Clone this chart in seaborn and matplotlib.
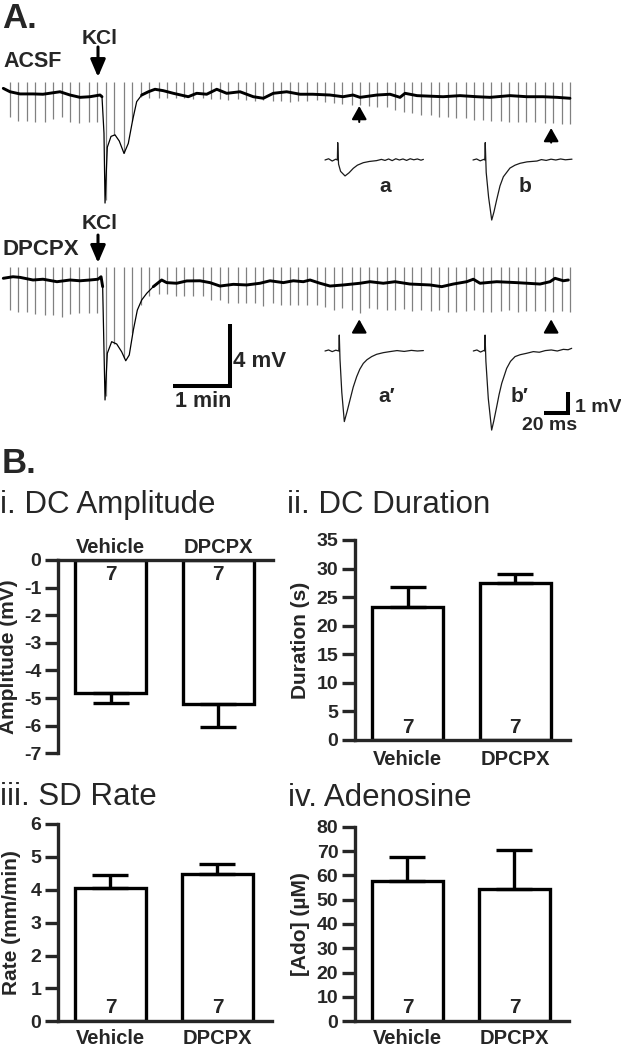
import numpy as np
import matplotlib
matplotlib.use("Agg")
import matplotlib.pyplot as plt
import seaborn as sns

# ---- Panel A: DC recordings (time in s, potential in mV) ----
top_t = [0.3, 7.4, 17.9, 31.6, 42.1, 60.0, 70.5, 81.1, 91.6, 102.1, 104.2, 106.3, 107.4, 109.8,
         113.7, 117.9, 122.4, 127.4, 131.9, 136.5, 140.7, 146.0, 153.0, 160.0, 168.7, 179.3,
         195.0, 203.9, 214.4, 225.0, 235.5, 249.5, 263.5, 274.0, 284.5, 298.6, 312.6, 326.0,
         344.2, 357.9, 368.4, 375.8, 393.7, 407.4, 417.9, 423.2, 435.8, 463.2, 481.1, 498.9,
         512.6, 533.7, 551.6, 568.4, 583.2, 596.8]
top_v = [0.30, 0.08, -0.06, -0.06, -0.08, 0.08, -0.13, -0.28, -0.24, -0.13, -0.24, -2.6, -7.1,
         -3.5, -2.8, -2.7, -3.1, -3.9, -3.25, -1.74, -0.56, -0.13, 0.08, 0.24, 0.15, -0.02,
         -0.24, -0.02, -0.08, 0.24, -0.02, 0.08, -0.24, -0.34, -0.02, 0.08, -0.08, -0.08,
         -0.13, -0.24, -0.13, -0.28, -0.13, -0.08, -0.28, -0.02, -0.17, -0.24, -0.17, -0.24,
         -0.28, -0.17, -0.24, -0.24, -0.28, -0.34]

bot_t = [0.3, 10.5, 17.9, 31.6, 42.1, 56.8, 70.5, 81.1, 91.6, 100.0, 103.2, 104.9, 107.4, 109.8,
         114.4, 119.7, 124.9, 129.2, 132.9, 137.2, 141.4, 146.0, 151.3, 158.2, 167.0, 172.3,
         182.8, 193.4, 207.4, 217.9, 228.4, 242.4, 256.5, 270.5, 281.1, 295.1, 305.6, 316.1,
         323.2, 333.7, 344.2, 358.2, 375.8, 386.3, 400.3, 412.6, 428.4, 449.5, 461.8, 474.0,
         488.1, 495.1, 502.1, 519.7, 540.7, 565.3, 575.8, 581.1, 589.8, 595.1]
bot_v = [0.11, 0.21, 0.17, 0.0, 0.05, -0.11, 0.0, -0.05, 0.0, 0.05, 0.21, -0.43, -7.74, -4.73,
         -3.98, -4.13, -4.63, -5.21, -4.84, -3.23, -1.94, -1.29, -0.86, -0.43, 0.0, -0.17,
         -0.21, -0.06, -0.05, -0.17, -0.39, -0.28, -0.32, -0.21, -0.05, -0.17, -0.05, -0.11,
         0.0, -0.21, -0.39, -0.32, -0.21, -0.11, -0.21, -0.11, -0.26, -0.32, -0.43, -0.26,
         -0.11, 0.05, -0.21, -0.11, -0.17, -0.26, -0.11, 0.11, -0.05, 0.0]

# stimulus times (s) and the negative extent of each evoked response (mV)
stim_t = [7, 16, 25, 34, 44, 53, 62, 71, 80, 90, 99, 108, 117, 127, 136, 145, 154, 164, 173,
          182, 191, 200, 210, 219, 228, 237, 247, 256, 265, 274, 284, 293, 302, 311, 320, 330,
          339, 348, 357, 367, 376, 385, 394, 404, 413, 422, 431, 440, 450, 459, 468, 477, 487,
          496, 505, 514, 524, 533, 542, 551, 560, 570, 579, 588, 597]
top_stim_low = [-1.55, -1.8, -1.8, -1.85, -1.9, -1.65, -1.55, -1.9, -1.95, -1.9, -1.85,
                -6.9, -2.7, -3.9, -1.8,
                -0.25, -0.3, -0.3, -0.35, -0.3, -0.35, -0.4, -0.35, -0.4, -0.4, -0.45, -0.4,
                -0.45, -0.5, -0.45, -0.5, -0.5, -0.55, -0.5, -0.5,
                -0.45, -0.6, -0.65, -0.7, -0.75, -0.8, -0.85, -0.9, -0.9, -1.1, -1.2, -1.3,
                -1.4, -1.4, -1.55, -1.55, -1.6, -1.6, -1.75, -1.75, -1.8, -1.8, -1.85, -1.85,
                -1.9, -1.9, -1.95, -1.95, -2.0, -2.0]
bot_stim_low = [-1.94, -2.04, -2.04, -2.19, -2.26, -2.26, -2.37, -2.19, -2.15, -2.15, -2.15,
                -7.5, -4.1, -5.0, -3.4,
                -1.6, -1.0, -0.9, -0.9, -1.0, -1.0, -1.0, -1.0, -1.3, -1.3, -1.5, -1.5, -1.5,
                -1.5, -1.7, -1.5, -1.6, -1.6, -1.6, -1.6,
                -1.61, -1.72, -1.94, -1.83, -1.94, -2.15, -1.83, -1.89, -1.94, -1.94, -1.89,
                -1.98, -1.94, -1.98, -1.94, -2.04, -2.04, -1.98, -1.94, -2.04, -2.04, -1.98,
                -1.94, -2.04, -1.98, -1.98, -1.98, -2.04, -1.98, -2.04]
top_stim_high = 0.71
bot_stim_high = 0.86
kcl_time = 100
sample_times = [375, 577]

# evoked responses (time in ms, mV)
a_t = [0, 3, 6, 9, 10.3, 10.6, 11.3, 13, 16.7, 20, 23.6, 27, 31.9, 37, 43, 47, 50, 53, 56, 59,
       62, 65, 68, 71, 74, 77, 80, 82]
a_v = [0, 0.06, -0.05, 0.04, 0, 0.84, -0.2, -0.55, -0.77, -0.62, -0.40, -0.25, -0.13, -0.07,
       -0.03, 0.03, -0.02, 0.05, -0.03, 0.06, 0.0, 0.05, -0.02, 0.06, 0.01, 0.05, -0.01, 0.03]
b_t = [0, 3, 6, 9, 9.8, 10.2, 11, 13, 15.6, 17.5, 19.7, 22.5, 25.3, 30.8, 35, 39.2, 45, 53.3,
       57, 61, 65, 69, 73, 77, 82.5]
b_v = [0, 0.05, -0.04, 0.03, 0, 0.84, -0.6, -1.8, -2.9, -2.5, -1.93, -1.25, -0.81, -0.39,
       -0.25, -0.16, -0.09, -0.05, 0.02, -0.02, 0.04, 0.0, 0.05, 0.01, 0.04]
a2_t = [0, 3, 6, 9, 11.5, 11.9, 12.5, 14, 16.1, 18.5, 20.8, 23.5, 26.4, 29, 31.9, 35, 38.9, 43,
        48.6, 54, 60, 66, 72, 77, 82]
a2_v = [0, 0.05, -0.03, 0.04, 0, 0.77, -0.4, -2.0, -3.41, -2.9, -2.37, -1.75, -1.24, -0.88,
        -0.6, -0.42, -0.27, -0.16, -0.08, -0.03, 0.02, -0.02, 0.03, 0.0, 0.02]
b2_t = [0, 3, 6, 9, 9.5, 9.8, 10.5, 12.5, 15.3, 17, 19.5, 21.5, 23.7, 27.8, 31, 34.8, 39, 44.5,
        50, 55, 60, 65, 70, 75, 79, 82]
b2_v = [0, 0.05, -0.05, 0.03, 0, 0.77, -0.5, -2.3, -3.82, -3.4, -2.69, -2.1, -1.56, -0.84,
        -0.5, -0.27, -0.18, -0.11, -0.03, -0.06, 0.02, 0.05, 0.0, 0.08, 0.06, 0.13]

# ---- Panel B: group means and SEM ----
groups = ["Vehicle", "DPCPX"]
n_per_group = [7, 7]
amp_mean = [-4.83, -5.22]
amp_sem = [0.36, 0.82]
dur_mean = [23.2, 27.5]
dur_sem = [3.5, 1.5]
rate_mean = [4.05, 4.49]
rate_sem = [0.39, 0.28]
ado_mean = [57.5, 54.2]
ado_sem = [10.2, 16.3]

sns.set_style("ticks")
plt.rcParams["font.family"] = ["Liberation Sans", "DejaVu Sans"]
plt.rcParams["font.weight"] = "bold"
plt.rcParams["axes.unicode_minus"] = False

W, H = 621, 1050
fig = plt.figure(figsize=(W / 100, H / 100), dpi=100)


def px_axes(left, top, right, bottom):
    ax = fig.add_axes([left / W, 1 - bottom / H, (right - left) / W, (bottom - top) / H])
    ax.patch.set_alpha(0)
    return ax


def set_scale(ax, left, top, right, bottom, x0, xs, y0, ys):
    ax.set_xlim((left - x0) / xs, (right - x0) / xs)
    ax.set_ylim((y0 - bottom) / ys, (y0 - top) / ys)
    ax.axis("off")


def ftext(x, y, s, **kw):
    kw.setdefault("va", "baseline")
    fig.text(x / W, 1 - y / H, s, **kw)


def draw_trace(ax, t, v, dc_start, dc_end):
    t = np.asarray(t)
    v = np.asarray(v)
    for mask, lw in [(t <= dc_start, 2.1), ((t >= dc_start) & (t <= dc_end), 0.9),
                     (t >= dc_end, 2.1)]:
        sns.lineplot(x=t[mask], y=v[mask], ax=ax, color="black", lw=lw,
                     estimator=None, sort=False, zorder=3)


def up_arrow(ax, t, tip, tail):
    ax.annotate("", xy=(t, tip), xytext=(t, tail),
                arrowprops=dict(arrowstyle="-|>,head_length=0.8,head_width=0.45",
                                mutation_scale=10, lw=1.5, color="black",
                                shrinkA=0, shrinkB=0))


def kcl_arrow(ax, t, tail, tip):
    ax.annotate("", xy=(t, tip), xytext=(t, tail),
                arrowprops=dict(arrowstyle="-|>,head_length=1.05,head_width=0.45",
                                mutation_scale=10, lw=2.2, color="black",
                                shrinkA=0, shrinkB=0))


# ---- Panel A traces ----
ax_top = px_axes(0, 40, 621, 232)
ax_top.vlines(stim_t, top_stim_low, top_stim_high, color="0.5", lw=0.9, zorder=1)
draw_trace(ax_top, top_t, top_v, 104.2, 146.0)
kcl_arrow(ax_top, kcl_time, 2.97, 1.03)
up_arrow(ax_top, sample_times[0], -0.84, -1.87)
up_arrow(ax_top, sample_times[1], -2.26, -3.2)
set_scale(ax_top, 0, 40, 621, 232, 3, 0.95, 93, 15.5)

ax_bot = px_axes(0, 232, 621, 440)
ax_bot.vlines(stim_t, bot_stim_low, bot_stim_high, color="0.5", lw=0.9, zorder=1)
draw_trace(ax_bot, bot_t, bot_v, 104.9, 158.2)
kcl_arrow(ax_bot, kcl_time, 2.9, 1.1)
up_arrow(ax_bot, sample_times[0], -2.54, -3.35)
up_arrow(ax_bot, sample_times[1], -2.54, -3.35)
ax_bot.plot([179, 239, 239], [-6.82, -6.82, -2.82], color="black", lw=2.9,
            solid_joinstyle="miter", solid_capstyle="butt")
set_scale(ax_bot, 0, 232, 621, 440, 3, 0.95, 280, 15.5)

insets = [
    (a_t, a_v, (318, 130, 434, 232), 325, 160),
    (b_t, b_v, (466, 130, 580, 232), 473, 160),
    (a2_t, a2_v, (318, 322, 434, 440), 325, 351),
    (b2_t, b2_v, (466, 322, 600, 440), 473.3, 351),
]
for t, v, bx, x0, y0 in insets:
    ax = px_axes(*bx)
    sns.lineplot(x=t, y=v, ax=ax, color="#1a1a1a", lw=0.9, estimator=None, sort=False)
    if bx[2] == 600:
        ax.plot([59, 79, 79], [-3.0, -3.0, -2.0], color="black", lw=2.9,
                solid_joinstyle="miter", solid_capstyle="butt")
    set_scale(ax, *bx, x0, 1.2, y0, 20.7)

ftext(2, 28.3, "A.", fontsize=25)
ftext(100, 44, "KCl", fontsize=15, ha="center")
ftext(3, 66.7, "ACSF", fontsize=15.5)
ftext(100, 229, "KCl", fontsize=15, ha="center")
ftext(3, 255, "DPCPX", fontsize=16)
ftext(385, 191.7, "a", fontsize=15, ha="center")
ftext(525, 191.7, "b", fontsize=15, ha="center")
ftext(387, 401.7, "a\u2032", fontsize=15, ha="center")
ftext(520, 401.7, "b\u2032", fontsize=15, ha="center")
ftext(233, 366.7, "4 mV", fontsize=16)
ftext(203, 406.7, "1 min", fontsize=15.5, ha="center")
ftext(575, 411.7, "1 mV", fontsize=14)
ftext(550, 430, "20 ms", fontsize=14, ha="center")

# ---- Panel B bar charts ----
ftext(2, 473.3, "B.", fontsize=25)


def bar_panel(bx, means, sems, ylim, yticks, ylabel, label_x, n_y, top_axis=False, pad=7.5):
    ax = px_axes(*bx)
    sns.barplot(x=groups, y=means, ax=ax, color="white", edgecolor="black",
                linewidth=2.4, width=0.66, saturation=1, errorbar=None)
    err = [sems, [0, 0]] if top_axis else [[0, 0], sems]
    ax.errorbar([0, 1], means, yerr=err, fmt="none", ecolor="black",
                elinewidth=2.4, capsize=13, capthick=2.4, zorder=4)
    for i, n in enumerate(n_per_group):
        ax.text(i, n_y, str(n), ha="center", va="baseline", fontsize=15)
    if top_axis:
        ax.xaxis.tick_top()
        ax.spines[["bottom", "right"]].set_visible(False)
    else:
        ax.spines[["top", "right"]].set_visible(False)
    for s in ax.spines.values():
        s.set_linewidth(2.4)
    ax.set_xlim(-0.49, 1.51)
    ax.set_ylim(*ylim)
    ax.set_yticks(yticks)
    ax.tick_params(axis="y", length=9.5, width=2.4, labelsize=14, pad=2.5)
    ax.tick_params(axis="x", length=0, labelsize=14.5, pad=2 if top_axis else pad)
    ax.set_xlabel("")
    ax.set_ylabel(ylabel, fontsize=15, fontweight="bold")
    ax.yaxis.set_label_coords(label_x, 0.5)
    return ax


bar_panel((58, 560, 273, 753.3), amp_mean, amp_sem, (-7, 0), range(-7, 1),
          "Amplitude (mV)", -0.186, -0.72, top_axis=True)
bar_panel((355, 540, 570, 740), dur_mean, dur_sem, (0, 35), range(0, 36, 5),
          "Duration (s)", -0.209, 1.2)
bar_panel((58, 824, 272, 1021.3), rate_mean, rate_sem, (0, 6), range(0, 7),
          "Rate (mm/min)", -0.172, 0.25, pad=5.5)
bar_panel((355, 826.7, 569, 1021.3), ado_mean, ado_sem, (0, 80), range(0, 81, 10),
          "[Ado] (\u00b5M)", -0.209, 3.4, pad=5.5)

ftext(0, 513.3, "i. DC Amplitude", fontsize=22.5, fontweight="normal")
ftext(287, 513.3, "ii. DC Duration", fontsize=22.5, fontweight="normal")
ftext(0, 805, "iii. SD Rate", fontsize=22.5, fontweight="normal")
ftext(288, 806, "iv. Adenosine", fontsize=22.5, fontweight="normal")

fig.savefig("out.png", dpi=100)
